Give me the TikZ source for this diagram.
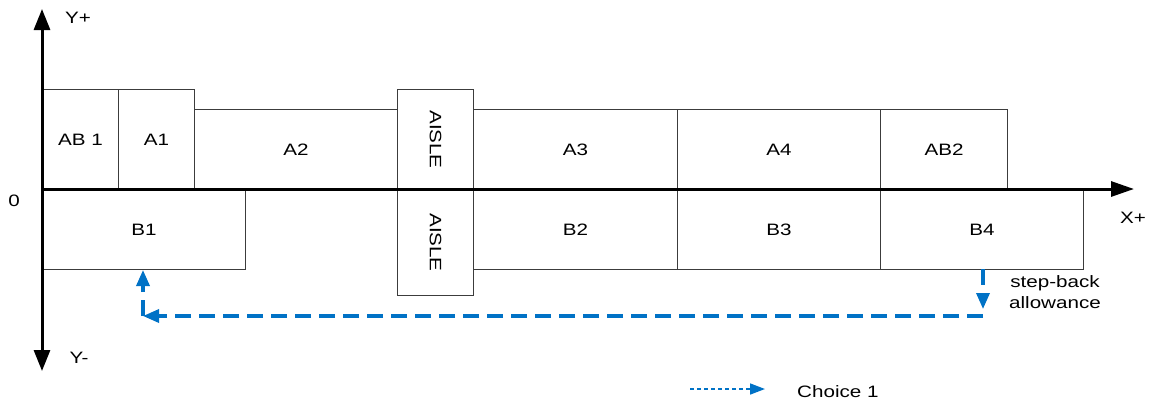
\documentclass[tikz,border=0pt]{standalone}
\usepackage{fontspec}
\setmainfont[FakeStretch=1.25]{Liberation Sans}
\usetikzlibrary{arrows.meta}
\definecolor{lineblue}{RGB}{0,114,198}
\definecolor{boxgray}{RGB}{60,60,60}
\tikzset{
  box/.style={draw=boxgray, line width=1pt, fill=white, inner sep=0pt, anchor=north west,
    font=\fontsize{16.5}{18}\selectfont},
  axis/.style={line width=3pt, -{Triangle[length=21pt,width=16pt]}},
  lbl/.style={font=\fontsize{16.5}{20}\selectfont, inner sep=0pt},
  route/.style={draw=lineblue, line width=3.3pt, dash pattern=on 16pt off 8pt,
    -{Triangle[length=16pt,width=13pt]}, color=lineblue},
  legendarrow/.style={draw=lineblue, line width=1.6pt, dash pattern=on 4pt off 3pt,
    -{Triangle[length=15pt,width=11pt]}, color=lineblue}
}
\begin{document}
\begin{tikzpicture}[x=1pt,y=-1pt]
\useasboundingbox (0,0) rectangle (1150,405);
% top row
\node[box, minimum width=76pt, minimum height=100pt] (AB1) at (42,89) {AB 1};
\node[box, minimum width=76pt, minimum height=100pt] (A1) at (118,89) {A1};
\node[box, minimum width=203pt, minimum height=80pt] (A2) at (194,109) {A2};
\node[box, minimum width=76pt, minimum height=100pt] (AIS1) at (397,89) {};
\node[rotate=-90, lbl] at (AIS1.center) {AISLE};
\node[box, minimum width=204pt, minimum height=80pt] (A3) at (473,109) {A3};
\node[box, minimum width=203pt, minimum height=80pt] (A4) at (677,109) {A4};
\node[box, minimum width=127pt, minimum height=80pt] (AB2) at (880,109) {AB2};
% bottom row
\node[box, minimum width=203pt, minimum height=80pt] (B1) at (42,189) {B1};
\node[box, minimum width=76pt, minimum height=106pt] (AIS2) at (397,189) {};
\node[rotate=-90, lbl] at (AIS2.center) {AISLE};
\node[box, minimum width=204pt, minimum height=80pt] (B2) at (473,189) {B2};
\node[box, minimum width=203pt, minimum height=80pt] (B3) at (677,189) {B3};
\node[box, minimum width=203pt, minimum height=80pt] (B4) at (880,189) {B4};
% axes
\coordinate (ytop) at (42,9);
\coordinate (ybot) at (42,371);
\coordinate (xleft) at (42,189);
\coordinate (xright) at (1134,189);
\draw[axis] (42,189) -- (ytop);
\draw[axis] (42,189) -- (ybot);
\draw[line width=3pt, -{Triangle[length=23pt,width=15pt]}] (xleft) -- (xright);
\node[lbl] (yp) at (78,18) {Y+};
\node[lbl] (ym) at (79,358) {Y-};
\node[lbl] (zero) at (14,201) {0};
\node[lbl] (xp) at (1133,218) {X+};
% route
\coordinate (r1) at (983,269);
\coordinate (r2) at (983,309);
\coordinate (r3) at (983,316);
\coordinate (r4) at (143,316);
\coordinate (r5) at (143,270);
\draw[route] (r1) -- (r2);
\draw[route] (r3) -- (r4);
\draw[route] (r4) -- (r5);
\node[lbl, align=center, font=\fontsize{16.5}{21}\selectfont] (sb) at (1055,292) {step-back\\allowance};
% legend
\node[lbl, anchor=west] (ch) at (797,392) {Choice 1};
\coordinate (l1) at (690,389);
\coordinate (l2) at (765,389);
\draw[legendarrow] (l1) -- (l2);
\end{tikzpicture}
\end{document}
